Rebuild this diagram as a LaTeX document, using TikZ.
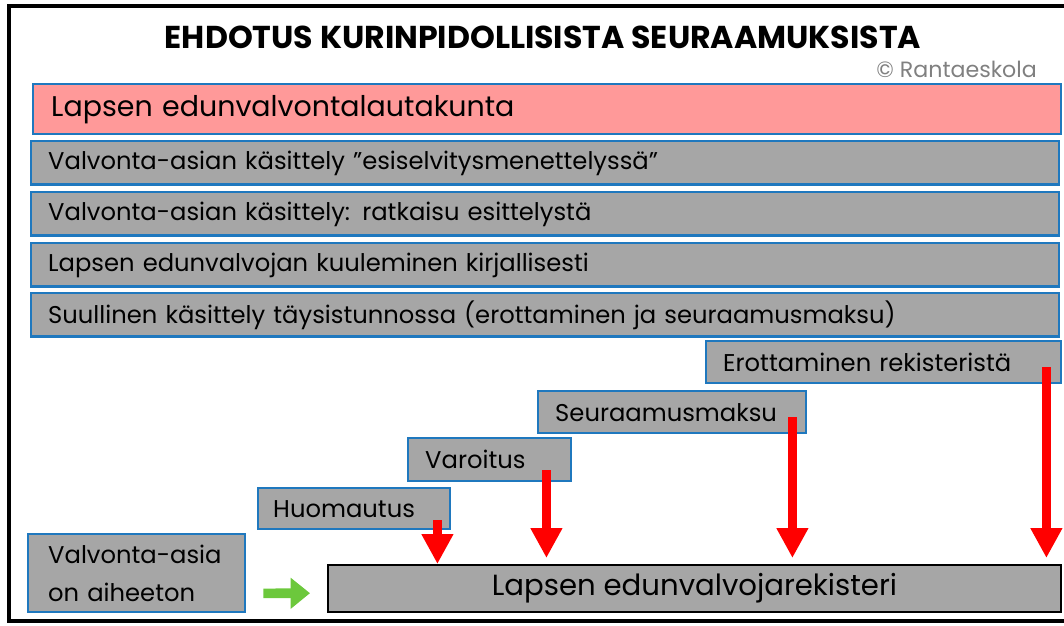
\documentclass[tikz,border=0pt]{standalone}
\usepackage{fontspec}
\setmainfont{Poppins}
\usetikzlibrary{arrows.meta}
\definecolor{edgeblue}{RGB}{31,120,190}
\definecolor{boxgray}{RGB}{166,166,166}
\definecolor{boxpink}{RGB}{255,153,153}
\definecolor{arrowred}{RGB}{255,0,0}
\definecolor{arrowgreen}{RGB}{108,200,60}
\tikzset{
  bar/.style={draw=edgeblue, fill=boxgray, line width=1.4pt, anchor=north west,
    inner xsep=0.34cm, inner ysep=0pt, align=left, font=\fontsize{13.8}{16}\selectfont},
  redarrow/.style={draw=arrowred, line width=5pt, -{Triangle[width=17pt,length=17pt]}},
  greenarrow/.style={draw=arrowgreen, line width=5.5pt, -{Triangle[width=17pt,length=11pt]}}
}
\begin{document}
\begin{tikzpicture}[x=0.02cm, y=-0.02cm]
  \useasboundingbox (0,0) rectangle (1064,625);
  % frame and heading
    \draw[line width=2.8pt] (9,6) rectangle (1075,621);
    \node[font=\bfseries\fontsize{18}{21}\selectfont] (title) at (543,37) {EHDOTUS KURINPIDOLLISISTA SEURAAMUKSISTA};
    \node[anchor=east, text=gray, font=\fontsize{12.6}{15}\selectfont] (copy) at (1043,69) {© Rantaeskola};
  % long bars
    \node[bar, fill=boxpink, minimum height=1cm, inner xsep=0.36cm, text width=19.84cm,
      font=\fontsize{16.2}{19}\selectfont] (board) at (32,83) {Lapsen edunvalvontalautakunta};
    \foreach \i/\y/\txt in {1/140/{Valvonta-asian käsittely ”esiselvitysmenettelyssä”},
                            2/191/{Valvonta-asian käsittely: ratkaisu esittelystä},
                            3/242/{Lapsen edunvalvojan kuuleminen kirjallisesti},
                            4/292/{Suullinen käsittely täysistunnossa (erottaminen ja seuraamusmaksu)}} {
      \node[bar, minimum height=0.87cm, text width=19.88cm] (row\i) at (30,\y) {\txt};
    }
  % steps
    \node[bar, minimum height=0.84cm, text width=6.42cm] (erot) at (705,340) {Erottaminen rekisteristä};
    \node[bar, minimum height=0.84cm, text width=4.68cm] (maksu) at (537,390) {Seuraamusmaksu};
    \node[bar, minimum height=0.86cm, text width=2.58cm] (varo) at (407,437) {Varoitus};
    \node[bar, minimum height=0.82cm, inner xsep=0.3cm, text width=3.24cm] (huom) at (257,487) {Huomautus};
    \node[bar, minimum height=1.56cm, inner xsep=0.4cm, text width=3.54cm,
      font=\fontsize{13.8}{21.6}\selectfont] (aiheeton) at (27,533) {Valvonta-asia\\on aiheeton};
    \node[bar, draw=black, line width=1.2pt, minimum width=14.66cm, minimum height=0.94cm, align=center,
      font=\fontsize{16.6}{19}\selectfont] (register) at (327,564) {Lapsen edunvalvojarekisteri};
  % arrows
    \foreach \src/\dx/\dy/\gap in {huom/0.28/0.2/0, varo/0.52/0.24/0.12, maksu/0.3/0.34/0.12, erot/0.32/0.34/0.12} {
      \path ([xshift=-\dx cm, yshift=\dy cm]\src.south east) coordinate (top);
      \draw[redarrow] (top) -- ([yshift=\gap cm]top |- register.north);
    }
    \draw[greenarrow, shorten <=0.34cm, shorten >=0.34cm] ([yshift=0.4cm]aiheeton.south east) -- ([yshift=0.4cm]register.south west);
\end{tikzpicture}
\end{document}
